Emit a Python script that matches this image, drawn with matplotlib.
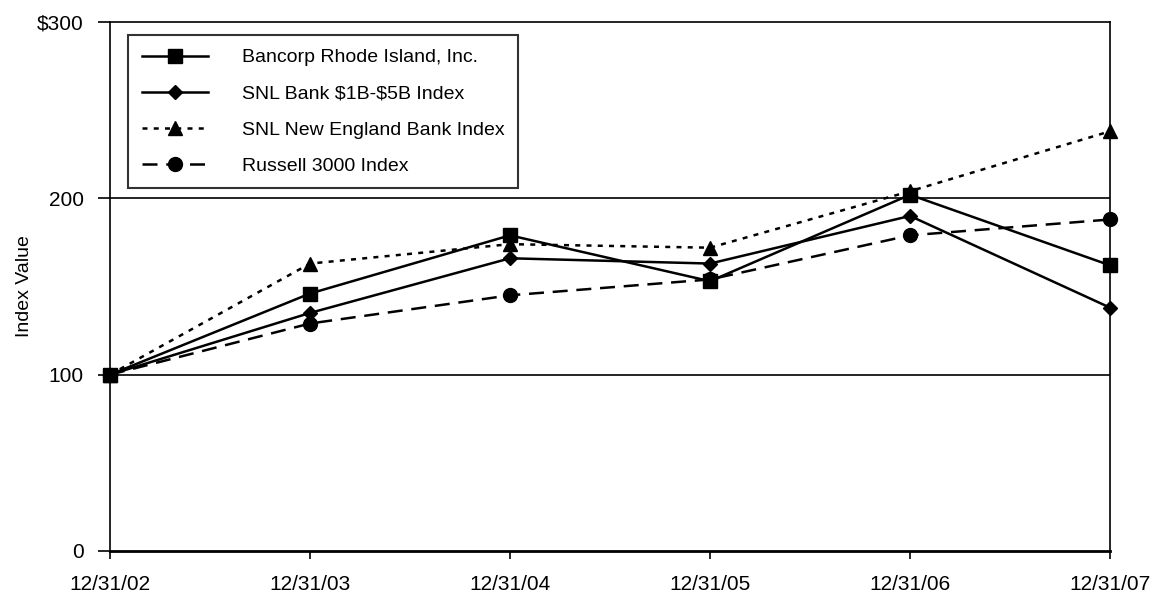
import matplotlib.pyplot as plt

plt.rcParams['font.family'] = ['Liberation Sans', 'DejaVu Sans']

dates = ['12/31/02', '12/31/03', '12/31/04', '12/31/05', '12/31/06', '12/31/07']
bancorp = [100, 146, 179, 153, 202, 162]
snl_1b_5b = [100, 135, 166, 163, 190, 138]
snl_new_england = [100, 163, 174, 172, 204, 238]
russell_3000 = [100, 129, 145, 154, 179, 188]

fig = plt.figure(figsize=(11.54, 5.94), dpi=100)
ax = fig.add_axes([0.0953, 0.0724, 0.8666, 0.8906])

x = range(len(dates))
# markers sit on the axes edges, so don't clip them
ax.plot(x, bancorp, color='black', lw=1.8, marker='s', ms=10, clip_on=False,
        label='Bancorp Rhode Island, Inc.', zorder=4)
ax.plot(x, snl_1b_5b, color='black', lw=1.8, marker='D', ms=7, clip_on=False,
        label='SNL Bank \\$1B-\\$5B Index', zorder=4)
ax.plot(x, snl_new_england, color='black', lw=1.8, ls=(0, (2, 2.5)), marker='^', ms=10,
        clip_on=False, label='SNL New England Bank Index', zorder=4)
ax.plot(x, russell_3000, color='black', lw=1.8, ls=(0, (6, 3.5)), marker='o', ms=10,
        clip_on=False, label='Russell 3000 Index', zorder=4)

ax.set_xlim(0, len(dates) - 1)
ax.set_ylim(0, 300)
ax.set_xticks(list(x))
ax.set_xticklabels(dates, fontsize=15)
ax.set_yticks([0, 100, 200, 300])
ax.set_yticklabels(['0', '100', '200', '\\$300'], fontsize=15)
ax.set_ylabel('Index Value', fontsize=14, labelpad=3)

for v in [100, 200]:
    ax.axhline(v, color='black', lw=1.2, zorder=1)

for s in ax.spines.values():
    s.set_linewidth(1.2)
ax.spines['bottom'].set_linewidth(2)
ax.tick_params(axis='y', direction='out', length=9, width=1.2, pad=10)
ax.tick_params(axis='x', direction='out', length=6, width=1.2, pad=11)

leg = ax.legend(loc='upper left', bbox_to_anchor=(0.018, 0.975), fontsize=14, frameon=True,
                fancybox=False, edgecolor='black', handlelength=3.4, borderpad=0.7,
                labelspacing=0.95, handletextpad=1.75, borderaxespad=0)
leg.get_frame().set_linewidth(1.5)

fig.savefig('out.png', dpi=100)
